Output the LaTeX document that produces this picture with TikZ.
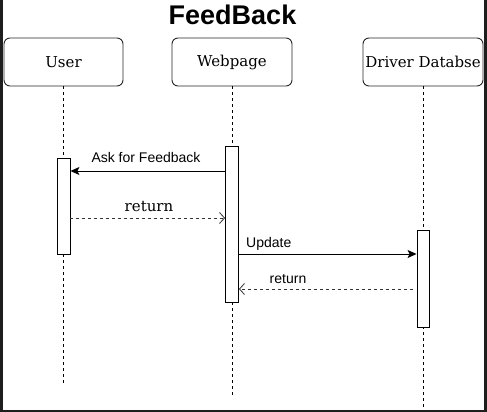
\documentclass[tikz,border=0pt]{standalone}
\usepackage{fontspec}
\setmainfont{DejaVu Serif}
\newfontfamily\lsans{Liberation Sans}
\usetikzlibrary{arrows.meta}
\definecolor{frame}{HTML}{1E1E1E}
\tikzset{
  actorbox/.style={draw=black!85, line width=0.9pt, rounded corners=6pt, fill=white,
    font=\fontsize{15}{18}\selectfont, inner sep=0pt},
  actbar/.style={draw=black, line width=0.9pt, fill=white, inner sep=0pt},
  lifeline/.style={draw=black, line width=0.9pt, dash pattern=on 3pt off 3pt},
  callmsg/.style={draw=black, line width=0.9pt, -{Stealth[length=9pt,width=8pt,inset=2pt]}},
  retmsg/.style={draw=black!80, line width=0.8pt, dash pattern=on 3pt off 3pt,
    -{Straight Barb[length=5pt,width=11pt,line width=0.8pt]}},
  sanslabel/.style={font=\lsans\fontsize{14}{16}\selectfont, inner sep=0pt, anchor=base},
  seriflabel/.style={font=\fontsize{15}{18}\selectfont, inner sep=0pt, anchor=base}
}
\begin{document}
\begin{tikzpicture}[x=1pt,y=-1pt]
\useasboundingbox (0,0) rectangle (487,412);
\fill[frame] (0,0) rectangle (487,412);
\fill[white] (3,0) rectangle (484,410);
% title
\node[font=\lsans\bfseries\fontsize{27}{30}\selectfont, inner sep=0pt, anchor=base] (title) at (232.5,25) {FeedBack};
% actors
\node[actorbox, minimum width=119pt, minimum height=48pt] (user) at (63.5,62) {User};
\node[actorbox, minimum width=120pt, minimum height=48pt] (web) at (232,62) {Webpage};
\node[actorbox, minimum width=120pt, minimum height=48pt] (db) at (423,62) {Driver Databse};
% lifeline ends
\coordinate (userend) at (63.5,385);
\coordinate (webend) at (232,398);
\coordinate (dbend) at (423,407);
\draw[lifeline] (user.south) -- (userend);
\draw[lifeline] (web.south) -- (webend);
\draw[lifeline] (db.south) -- (dbend);
% activations
\node[actbar, minimum width=13pt, minimum height=96pt] (useract) at (63.5,206) {};
\node[actbar, minimum width=13pt, minimum height=156pt] (webact) at (232,224) {};
\node[actbar, minimum width=12pt, minimum height=97pt] (dbact) at (423,278.5) {};
% message end points
\coordinate (m1a) at (webact.west |- 0,171);
\coordinate (m1b) at (useract.east |- 0,171);
\coordinate (m2a) at (useract.east |- 0,218);
\coordinate (m2b) at (webact.west |- 0,218);
\coordinate (m3a) at (webact.east |- 0,254);
\coordinate (m3b) at (dbact.west |- 0,254);
\coordinate (m4a) at (413,289);
\coordinate (m4b) at (webact.east |- 0,289);
% messages
\draw[callmsg] (m1a) -- (m1b);
\draw[retmsg] (m2a) -- (m2b);
\draw[callmsg] (m3a) -- (m3b);
\draw[retmsg] (m4a) -- (m4b);
% labels
\node[sanslabel] (l1) at (146,162) {Ask for Feedback};
\node[seriflabel] (l2) at (149,211) {return};
\node[sanslabel, anchor=base west] (l3) at (246,247) {Update};
\node[sanslabel] (l4) at (288,283) {return};
\end{tikzpicture}
\end{document}
